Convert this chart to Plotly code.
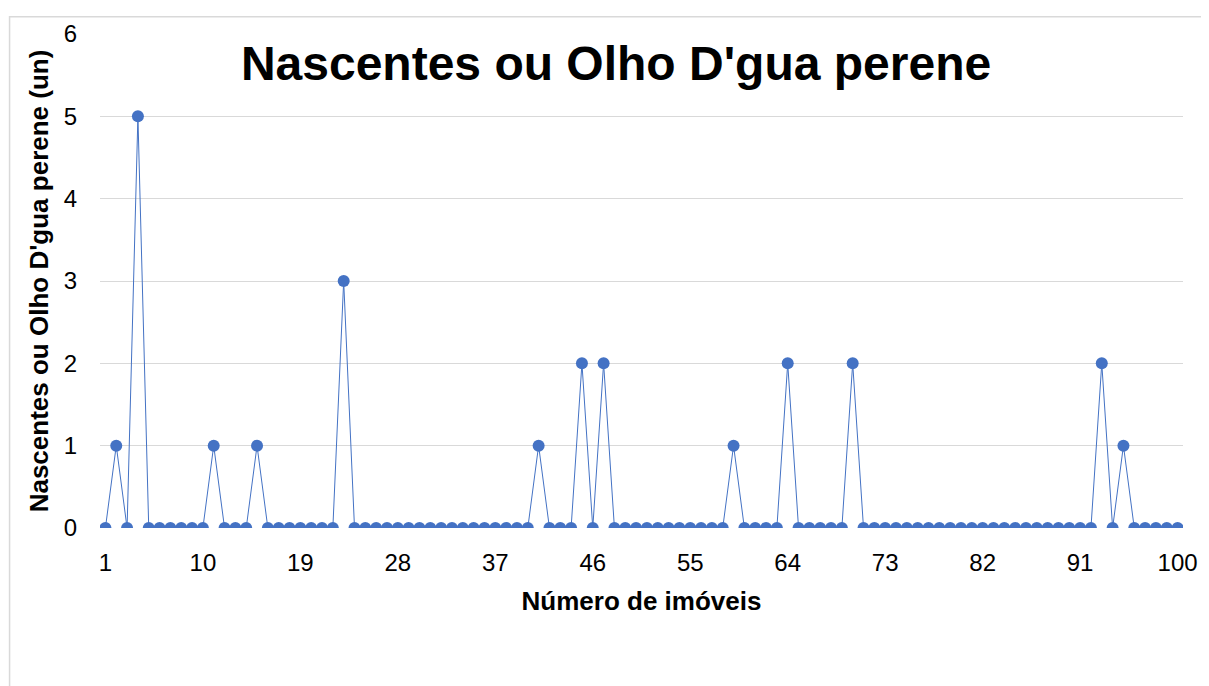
import plotly.graph_objects as go

# property index and number of springs per property
imoveis = list(range(1, 101))
nascentes = [0] * 100
destaques = {2: 1, 4: 5, 11: 1, 15: 1, 23: 3, 41: 1, 45: 2, 47: 2,
             59: 1, 64: 2, 70: 2, 93: 2, 95: 1}
for k, v in destaques.items():
    nascentes[k - 1] = v

x_ticks = [1, 10, 19, 28, 37, 46, 55, 64, 73, 82, 91, 100]
y_ticks = [0, 1, 2, 3, 4, 5, 6]

FONT = "Liberation Sans, Arial, sans-serif"
BLUE = "#4472C4"
GRID = "#D9D9D9"

fig = go.Figure()
fig.add_trace(go.Scatter(
    x=imoveis, y=nascentes,
    mode="lines+markers",
    line=dict(color=BLUE, width=1),
    marker=dict(color=BLUE, size=12),
    showlegend=False))

# page body adds 8px offset, margins compensate for it
fig.update_layout(
    width=1209, height=686,
    margin=dict(l=92, r=34, t=20, b=166),
    paper_bgcolor="white", plot_bgcolor="white",
    font=dict(family=FONT, color="black"),
    title=dict(text="<b>Nascentes ou Olho D'gua perene</b>",
               font=dict(size=48, family=FONT, color="black"),
               xref="paper", x=0.4765, xanchor="center",
               yref="container", y=1 - 55 / 686, yanchor="middle"),
    shapes=[dict(type="rect", xref="paper", yref="paper",
                 x0=-0.0835, x1=1.2, y0=-0.5, y1=1.035,
                 line=dict(color=GRID, width=1.5), layer="below")])

fig.update_xaxes(
    range=[0.5, 100.5], tickvals=x_ticks,
    showgrid=False, zeroline=False, showline=False,
    tickfont=dict(size=24), ticklabelstandoff=18,
    title=dict(text="<b>Número de imóveis</b>", font=dict(size=26), standoff=16))

fig.update_yaxes(
    range=[0, 6], tickvals=y_ticks,
    showgrid=True, gridcolor=GRID, gridwidth=1,
    zeroline=False, showline=False,
    tickfont=dict(size=24), ticklabelstandoff=22,
    title=dict(text="<b>Nascentes ou Olho D'gua perene (un)</b>",
               font=dict(size=26), standoff=7))

fig.write_html("out.html")
